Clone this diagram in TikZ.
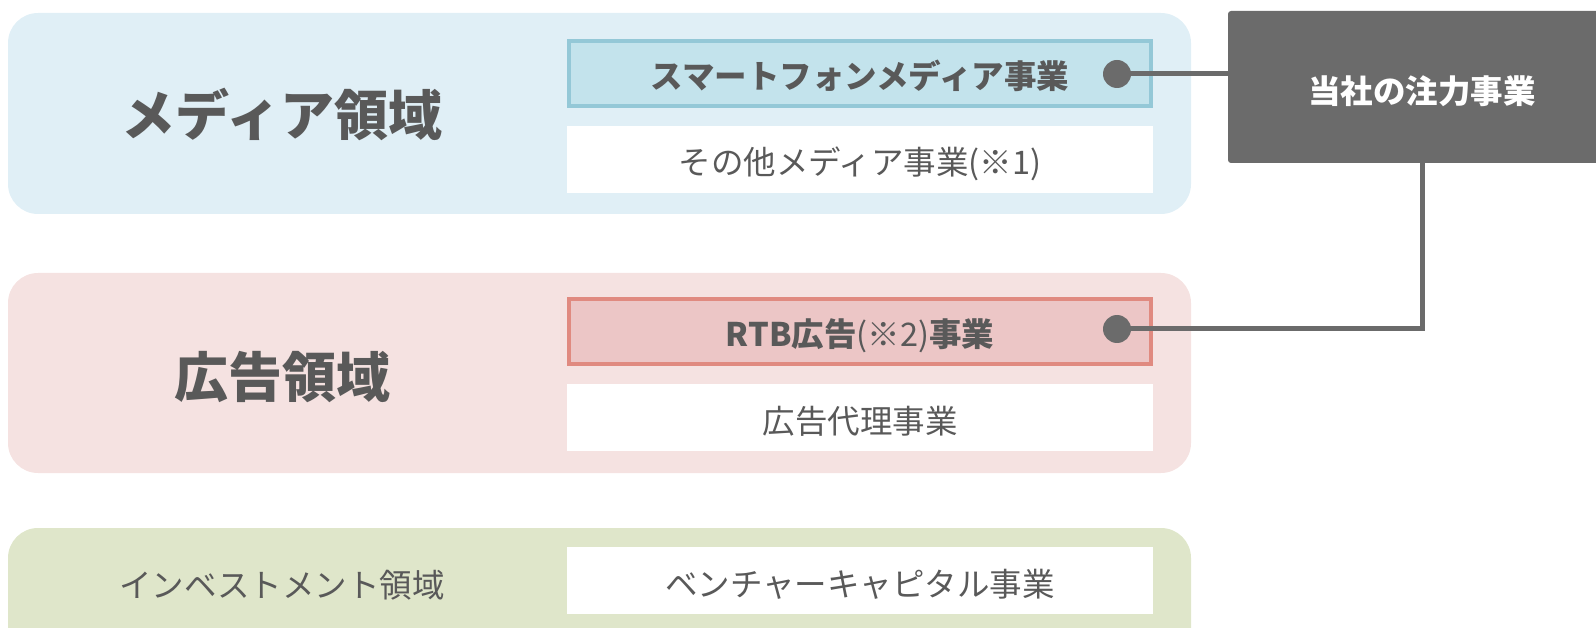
\documentclass[tikz,border=0pt]{standalone}
\usepackage{fontspec}
\newfontfamily\jp{Noto Sans CJK JP}
\usetikzlibrary{calc}
\definecolor{txt}{HTML}{595959}
\definecolor{bluebg}{HTML}{E0EFF6}
\definecolor{bluefill}{HTML}{C3E3EC}
\definecolor{blueline}{HTML}{94C8D7}
\definecolor{pinkbg}{HTML}{F5E2E1}
\definecolor{pinkfill}{HTML}{ECC6C6}
\definecolor{pinkline}{HTML}{E08A80}
\definecolor{greenbg}{HTML}{DFE6CA}
\definecolor{darkbox}{HTML}{6B6B6B}
\tikzset{
  panel/.style={rounded corners=30pt, minimum width=1183pt, inner sep=0pt, draw=none},
  inner/.style={minimum width=586pt, minimum height=67pt, inner sep=0pt, fill=white, text=txt, text height=35pt, text depth=4pt, font=\jp\fontsize{32.5}{36}\selectfont},
  hot/.style={minimum width=582pt, minimum height=65pt, inner sep=0pt, line width=4pt, text=txt, text height=35pt, text depth=4pt, font=\jp\bfseries\fontsize{32.5}{36}\selectfont},
  title/.style={text=txt, font=\jp\bfseries\fontsize{54}{60}\selectfont},
  dot/.style={circle, fill=darkbox, minimum size=28pt, inner sep=0pt},
  conn/.style={draw=darkbox, line width=5pt}
}
\begin{document}
\begin{tikzpicture}[x=1pt,y=-1pt]
\useasboundingbox (0,0) rectangle (1596,628);
\clip (0,0) rectangle (1596,628);
% panels
\node[panel, fill=bluebg, minimum height=201pt] (mp) at (599.5,113.5) {};
\node[panel, fill=pinkbg, minimum height=200pt] (ap) at (599.5,373) {};
\node[panel, fill=greenbg, minimum height=200pt] (ip) at (599.5,628) {};
% titles
\node[title] (mt) at (282,114) {メディア領域};
\node[title] (at) at (282,377) {広告領域};
\node[text=txt, font=\jp\fontsize{32.5}{36}\selectfont] (it) at (282,585) {インベストメント領域};
% inner boxes
\node[hot, fill=bluefill, draw=blueline] (sm) at (860,73.5) {スマートフォンメディア事業};
\node[inner] (om) at (860,159.5) {その他メディア事業(※1)};
\node[hot, fill=pinkfill, draw=pinkline] (rtb) at (860,331.5) {RTB広告{\mdseries(※2)}事業};
\node[inner] (ag) at (860,417.5) {広告代理事業};
\node[inner] (vc) at (860,580.5) {ベンチャーキャピタル事業};
% focus box
\node[fill=darkbox, rounded corners=3pt, minimum width=388pt, minimum height=152pt, inner sep=0pt] (fb) at (1422,87) {};
\node[text=white, font=\jp\bfseries\fontsize{32.5}{36}\selectfont] (fbt) at (1422,91) {当社の注力事業};
% dots and connectors
\node[dot] (d1) at (1117,74) {};
\node[dot] (d2) at (1117,329) {};
\draw[conn] (d1.center) -- (d1.center -| fb.west);
\draw[conn] (fb.south) |- (d2.center);
\end{tikzpicture}
\end{document}
